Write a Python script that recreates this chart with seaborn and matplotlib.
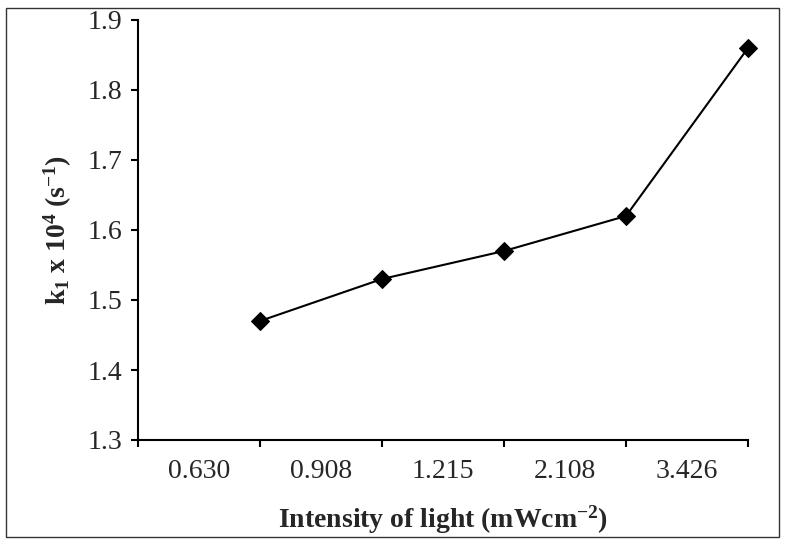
import numpy as np
import pandas as pd
import seaborn as sns
import matplotlib
matplotlib.use("Agg")
import matplotlib.pyplot as plt
from matplotlib.patches import Rectangle

# data
intensity = ["0.630", "0.908", "1.215", "2.108", "3.426"]
k1 = [1.47, 1.53, 1.57, 1.62, 1.86]
y_ticks = [1.3, 1.4, 1.5, 1.6, 1.7, 1.8, 1.9]

sns.set_style("white")
plt.rcParams["font.family"] = ["Liberation Serif", "DejaVu Serif"]
plt.rcParams["mathtext.fontset"] = "custom"
plt.rcParams["mathtext.rm"] = "Liberation Serif"
plt.rcParams["mathtext.bf"] = "Liberation Serif:bold"
plt.rcParams["mathtext.it"] = "Liberation Serif:italic"

# points sit on the tick right of each category label (excel style)
df = pd.DataFrame({"pos": np.arange(1, len(intensity) + 1), "k1": k1})

fig = plt.figure(figsize=(7.85, 5.44), dpi=100)
ax = fig.add_axes([138 / 785, 104 / 544, 610 / 785, 420 / 544])

sns.lineplot(data=df, x="pos", y="k1", ax=ax, color="black", linewidth=1.5,
             marker="D", markersize=9, markeredgecolor="black",
             markerfacecolor="black", clip_on=False)

ax.set_xlim(0, len(intensity))
ax.set_ylim(1.3, 1.9)
ax.set_xticks(np.arange(0, len(intensity) + 1))
ax.set_xticklabels([])
ax.set_xticks(np.arange(len(intensity)) + 0.5, minor=True)
ax.set_xticklabels(intensity, minor=True)
ax.set_yticks(y_ticks)
ax.set_yticklabels([f"{v:.1f}" for v in y_ticks])

ax.tick_params(axis="both", which="major", direction="out", length=5,
               width=1.5, color="black", labelsize=20, bottom=True, left=True)
ax.tick_params(axis="y", pad=6)
ax.tick_params(axis="x", which="minor", length=0, labelsize=20, pad=14,
               bottom=True)

for side in ["top", "right"]:
    ax.spines[side].set_visible(False)
for side in ["left", "bottom"]:
    ax.spines[side].set_linewidth(1.5)
    ax.spines[side].set_color("black")

ax.set_xlabel(r"Intensity of light (mWcm$^{\mathbf{-2}}$)", fontsize=20,
              fontweight="bold", labelpad=14)
ax.set_ylabel(r"$\mathbf{k_1\ x\ 10^4\ (s^{-1})}$", fontsize=20, labelpad=10)

# thin frame around the whole chart area
fig.patches.append(Rectangle((6 / 785, 7 / 544), 773 / 785, 529 / 544,
                             transform=fig.transFigure, fill=False,
                             edgecolor="#333333", linewidth=1))

fig.savefig("out.png", dpi=100)
